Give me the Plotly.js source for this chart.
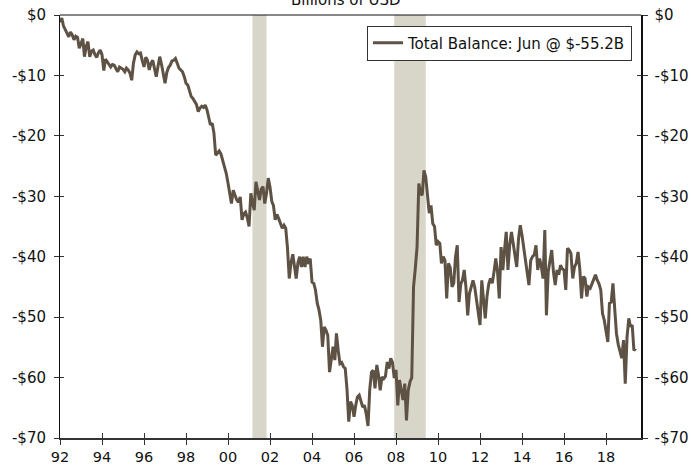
<!DOCTYPE html>
<html>
<head>
<meta charset="utf-8">
<script src="https://cdn.plot.ly/plotly-3.0.1.min.js"></script>
<style>
  html, body { margin: 0; padding: 0; background: #fff; }
  #chart { width: 691px; height: 467px; }
</style>
</head>
<body>
<div id="chart"></div>
<script>
// Monthly total balance, billions of USD (Jan 1992 - Jun 2019)
const startYear = 1992;
const bal1990s = [
  -1.2, -0.5, -1.8, -2.3, -3.0, -3.6, -2.8, -3.3, -4.1, -3.5, -3.7, -5.5,
  -4.6, -3.9, -6.9, -5.2, -4.4, -6.9, -6.0, -5.8, -6.6, -7.0, -6.2, -5.8,
  -6.6, -9.2, -7.3, -7.7, -8.0, -8.6, -8.2, -8.3, -8.9, -9.4, -8.6, -8.8,
  -9.0, -9.4, -8.8, -9.1, -9.6, -10.8, -8.0, -6.6, -6.1, -6.4, -6.3, -7.5,
  -8.6, -7.0, -7.5, -9.1, -8.0, -7.5, -9.0, -10.2, -8.5, -6.9, -8.2, -10.0,
  -11.3, -9.5, -8.7, -8.3, -7.6, -7.5, -7.2, -8.0, -8.8, -9.1, -9.4, -10.2,
  -11.3, -11.6, -12.5, -13.5, -13.8, -14.4, -14.8, -16.0, -15.4, -15.1, -15.3, -14.9,
  -15.7, -17.0, -18.2, -17.9, -19.5, -23.2, -22.8, -22.5, -23.0, -24.0, -25.3, -26.2
];
const bal2000s = [
  -27.8, -29.5, -31.2, -29.0, -29.8, -30.6, -31.0, -30.1, -33.9, -32.9, -32.6, -33.5,
  -35.0, -29.5, -31.0, -32.3, -27.6, -29.5, -30.6, -28.8, -28.4, -31.2, -29.5, -27.0,
  -28.5, -30.9, -31.5, -33.9, -33.0, -33.7, -34.5, -35.3, -34.8, -35.3, -38.6, -43.6,
  -41.0, -39.6, -41.5, -43.6, -41.0, -40.0, -41.7, -40.0, -41.7, -40.0, -41.2, -40.3,
  -44.2, -44.4, -45.5, -47.7, -48.8, -50.5, -54.9, -51.6, -52.2, -53.0, -59.1, -56.5,
  -54.9, -57.1, -52.7, -55.5, -57.7, -57.5, -58.2, -58.5, -62.0, -67.3, -64.0, -64.6,
  -66.5, -64.5, -63.2, -62.9, -63.8, -64.9, -64.6, -66.0, -68.0, -62.0, -59.1, -58.8,
  -61.8, -57.9, -59.5, -62.1, -59.9, -60.2, -59.8, -57.4, -58.5, -56.8, -57.5, -60.1,
  -58.7, -64.6, -60.4, -62.0, -63.7, -61.0, -67.1, -62.1, -60.7, -60.0, -45.0, -42.0,
  -38.4, -27.9, -29.5, -29.8, -25.7, -26.8, -30.5, -32.8, -31.5, -34.5, -35.0, -38.1
];
const bal2010s = [
  -37.5, -37.8, -41.1, -40.0, -40.6, -46.9, -41.1, -41.8, -45.0, -44.4, -40.0, -38.1,
  -47.5, -44.5, -43.9, -42.2, -45.0, -49.7, -46.1, -45.0, -43.9, -45.0, -47.2, -49.0,
  -51.3, -43.9, -47.0, -50.2, -46.6, -44.5, -43.6, -44.4, -42.5, -40.3, -42.5, -46.9,
  -38.4, -42.2, -39.0, -35.9, -42.2, -38.0, -35.9, -38.1, -40.0, -41.7, -37.0, -34.8,
  -36.5, -38.6, -41.0, -42.5, -44.7, -40.6, -40.0, -39.7, -38.1, -42.2, -40.3, -41.5,
  -43.6, -35.6, -49.7, -42.5, -41.0, -38.9, -42.5, -44.7, -42.2, -43.0, -41.4, -42.0,
  -42.2, -45.5, -38.6, -38.9, -39.5, -43.6, -41.7, -41.1, -39.2, -42.0, -46.9, -43.3,
  -43.6, -46.6, -45.0, -45.2, -44.5, -43.6, -43.0, -43.9, -44.5, -45.5, -49.4, -50.5,
  -52.0, -54.1, -47.7, -47.5, -44.4, -49.4, -52.7, -54.5, -55.7, -56.8, -53.8, -61.0,
  -53.3, -50.2, -51.6, -51.3, -55.5, -55.2
];
const seriesName = "Total Balance: Jun @ $-55.2B";
const recessionStart = ["2001-03-01", "2007-12-01"];
const recessionEnd   = ["2001-11-01", "2009-06-01"];
const xTickVals = ["1992-01-01","1994-01-01","1996-01-01","1998-01-01","2000-01-01","2002-01-01","2004-01-01","2006-01-01","2008-01-01","2010-01-01","2012-01-01","2014-01-01","2016-01-01","2018-01-01"];
const xTickText = ["92","94","96","98","00","02","04","06","08","10","12","14","16","18"];
const yTickVals = [0, -10, -20, -30, -40, -50, -60, -70];
const yTickText = ["$0", "-$10", "-$20", "-$30", "-$40", "-$50", "-$60", "-$70"];
const xRange = ["1992-01-01", "2019-09-01"];
const yRange = [-70, 0];

const values = bal1990s.concat(bal2000s, bal2010s);
const dates = values.map((v, i) => {
  const y = startYear + Math.floor(i / 12);
  const m = (i % 12) + 1;
  return y + "-" + (m < 10 ? "0" + m : m) + "-01";
});

const lineColor = "#5e5245";
const font = "DejaVu Sans, Verdana, sans-serif";

const traces = [
  { x: dates, y: values, type: "scatter", mode: "lines", name: seriesName,
    line: { color: lineColor, width: 3 }, xaxis: "x", yaxis: "y", hoverinfo: "skip" },
  { x: [], y: [], type: "scatter", mode: "lines", showlegend: false, xaxis: "x2", yaxis: "y3" },
  { x: [], y: [], type: "scatter", mode: "lines", showlegend: false, xaxis: "x", yaxis: "y2" },
  { x: [], y: [], type: "scatter", mode: "lines", showlegend: false, xaxis: "x2", yaxis: "y4" }
];

const shapes = recessionStart.map((s, k) => ({
  type: "rect", xref: "x", yref: "paper", x0: s, x1: recessionEnd[k], y0: 0, y1: 1,
  fillcolor: "#d8d5c9", line: { width: 0 }, layer: "below"
}));

const tickFont = { family: font, size: 15, color: "#111" };

const layout = {
  width: 691, height: 467,
  margin: { l: 60, r: 50, t: 15, b: 29 },
  paper_bgcolor: "#fff", plot_bgcolor: "#fff",
  font: { family: font, color: "#111" },
  showlegend: true,
  legend: {
    x: 0.9845, xanchor: "right", y: 0.975, yanchor: "top",
    bgcolor: "#fff", bordercolor: "#333", borderwidth: 1,
    font: { family: font, size: 15, color: "#111" },
    itemwidth: 30, tracegroupgap: 0
  },
  xaxis: {
    type: "date", range: xRange, tickmode: "array", tickvals: xTickVals, ticktext: xTickText,
    ticks: "outside", ticklen: 5, tickwidth: 1, tickcolor: "#333", ticklabelstandoff: 0,
    showline: true, linecolor: "#333", linewidth: 2, mirror: false,
    showgrid: false, zeroline: false, tickfont: { family: font, size: 14.5, color: "#111" }
  },
  xaxis2: {
    type: "date", range: xRange, overlaying: "x", side: "bottom", tickmode: "array", tickvals: xTickVals,
    ticks: "inside", ticklen: 5, tickwidth: 1, tickcolor: "#333",
    showticklabels: false, showline: false, showgrid: false, zeroline: false
  },
  yaxis: {
    range: yRange, tickmode: "array", tickvals: yTickVals, ticktext: yTickText,
    ticks: "outside", ticklen: 5, tickwidth: 1, tickcolor: "#333", ticklabelstandoff: 5,
    showline: true, linecolor: "#111", linewidth: 1, mirror: false,
    showgrid: false, zeroline: false, tickfont: tickFont
  },
  yaxis2: {
    range: yRange, overlaying: "y", side: "right", tickmode: "array", tickvals: yTickVals, ticktext: yTickText,
    ticks: "outside", ticklen: 5, tickwidth: 1, tickcolor: "#333", ticklabelstandoff: 4,
    showline: true, linecolor: "#111", linewidth: 1.5,
    showgrid: false, zeroline: false, tickfont: tickFont
  },
  yaxis3: {
    range: yRange, overlaying: "y", side: "left", tickmode: "array", tickvals: yTickVals,
    ticks: "inside", ticklen: 4, tickwidth: 1, tickcolor: "#333",
    showticklabels: false, showline: false, showgrid: false, zeroline: false
  },
  yaxis4: {
    range: yRange, overlaying: "y", side: "right", tickmode: "array", tickvals: yTickVals,
    ticks: "inside", ticklen: 4, tickwidth: 1, tickcolor: "#333",
    showticklabels: false, showline: false, showgrid: false, zeroline: false
  },
  shapes: shapes.concat([
    { type: "line", xref: "paper", yref: "paper", x0: 0, x1: 1, y0: 1, y1: 1,
      line: { color: "#111", width: 1 } }
  ]),
  annotations: [
    { text: "Billions of USD", xref: "paper", yref: "paper", x: 0.492, y: 1.036,
      xanchor: "center", yanchor: "middle", showarrow: false,
      font: { family: font, size: 15, color: "#111" } }
  ]
};

Plotly.newPlot("chart", traces, layout, { displayModeBar: false, staticPlot: true });
</script>
</body>
</html>
